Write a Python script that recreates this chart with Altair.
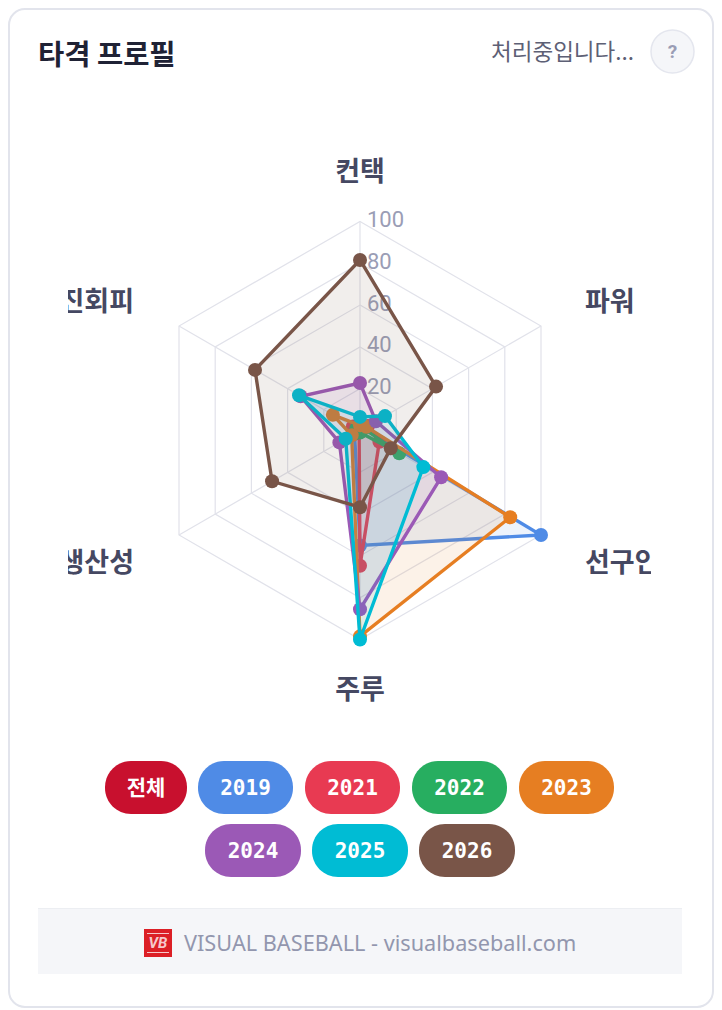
import math
import altair as alt
import pandas as pd

axes = ["컨택", "파워", "선구안", "주루", "생산성", "삼진회피"]
years = ["2019", "2021", "2022", "2023", "2024", "2025", "2026"]
colors = ["#4f8be6", "#e83a52", "#27ae60", "#e67e22", "#9b59b6", "#00bcd4", "#795548"]
v2019 = [3, 2, 100, 55, 3, 3]
v2021 = [3, 4.4, 10.7, 64.7, 0.5, 3.9]
v2022 = [0, 2, 21.7, 1, 3, 2]
v2023 = [2.5, 3.5, 83, 98.5, 4.6, 15]
v2024 = [22.7, 8.8, 44.8, 85.5, 11.4, 32.8]
v2025 = [6.5, 13.8, 35, 100, 7.9, 33.7]
v2026 = [81.6, 42, 17, 36.7, 48.6, 58]
series = [v2019, v2021, v2022, v2023, v2024, v2025, v2026]
levels = [100, 80, 60, 40, 20]
pill_labels = ["전체", "2019", "2021", "2022", "2023", "2024", "2025", "2026"]

W, H = 706, 1002
CX, CY, PX = 352.0, 422.5, 2.09


def polar(i, v):
    t = math.radians(60 * i)
    return v * math.sin(t), v * math.cos(t)


xs = alt.Scale(domain=[-CX / PX, (W - CX) / PX], range=[0, W], nice=False, zero=False)
ys = alt.Scale(domain=[-(H - CY) / PX, CY / PX], range=[H, 0], nice=False, zero=False)
X = alt.X("x:Q", scale=xs, axis=None)
Y = alt.Y("y:Q", scale=ys, axis=None)


def px(v):
    return alt.value(v - 8)


def box(x0, x1, y0, y1, **kw):
    return alt.Chart().mark_rect(**kw).encode(x=px(x0), x2=px(x1), y=px(y0), y2=px(y1))


def label(txt, x, y, **kw):
    return alt.Chart().mark_text(text=txt, **kw).encode(x=px(x), y=px(y))


KR = "Noto Sans CJK KR"
layers = []
layers.append(box(9, 713, 9, 1007, fill="white", stroke="#e2e4ec", strokeWidth=2, cornerRadius=16))

layers.append(label("타격 프로필", 38, 55.5, font=KR, fontSize=28.5, fontWeight=700, align="left", baseline="middle", color="#1f2235"))
layers.append(label("처리중입니다...", 634, 53, font=KR, fontSize=22.5, fontWeight=400, align="right", baseline="middle", color="#5d6075"))
layers.append(box(651, 694, 30, 73, fill="#f5f6f9", stroke="#e4e6ee", strokeWidth=1.5, cornerRadius=21.5))
layers.append(label("?", 672.5, 52, font="Roboto", fontSize=19, fontWeight=700, align="center", baseline="middle", color="#9a9db5"))

# grid
grid = pd.DataFrame(
    [{"level": l, "i": i, "x": polar(i, l)[0], "y": polar(i, l)[1]} for l in levels for i in range(6)]
)
layers.append(
    alt.Chart(grid).mark_line(interpolate="linear-closed", stroke="#e1e2ea", strokeWidth=1.2).encode(
        x=X, y=Y, detail="level:N", order="i:Q"
    )
)
spokes = pd.DataFrame(
    [{"x": 0, "y": 0, "x2": polar(i, 100)[0], "y2": polar(i, 100)[1]} for i in range(6)]
)
layers.append(
    alt.Chart(spokes).mark_rule(stroke="#e1e2ea", strokeWidth=1.2).encode(
        x=X, y=Y, x2="x2:Q", y2="y2:Q"
    )
)

# tick labels
ticks = pd.DataFrame({"x": [0] * len(levels), "y": levels, "t": [str(l) for l in levels]})
layers.append(
    alt.Chart(ticks).mark_text(font="Roboto", fontSize=22, align="left", baseline="middle", dx=7, dy=-1.5, color="#9a9db5").encode(
        x=X, y=Y, text="t:N"
    )
)

# series
for yr, col, vals in zip(years, colors, series):
    d = pd.DataFrame(
        [{"i": i, "x": polar(i, v)[0], "y": polar(i, v)[1]} for i, v in enumerate(vals)]
    )
    base = alt.Chart(d)
    layers.append(
        base.mark_line(interpolate="linear-closed", stroke=col, strokeWidth=3.4, fill=col, fillOpacity=0.1).encode(
            x=X, y=Y, order="i:Q"
        )
    )
    layers.append(base.mark_circle(size=196, color=col, opacity=1).encode(x=X, y=Y))

# axis names
name_style = dict(font=KR, fontSize=27, fontWeight=700, baseline="middle", color="#454862")
layers.append(label(axes[0], 360, 173, align="center", **name_style))
layers.append(label(axes[1], 585, 303, align="left", **name_style))
layers.append(label(axes[2], 585, 564, align="left", **name_style))
layers.append(label(axes[3], 360, 691, align="center", **name_style))
layers.append(label(axes[4], 134, 564, align="right", **name_style))
layers.append(label(axes[5], 134, 303, align="right", **name_style))
# labels are cut by the original's plot box
layers.append(box(20, 68, 280, 325, fill="white"))
layers.append(box(20, 68, 540, 585, fill="white"))
layers.append(box(651, 700, 540, 585, fill="white"))

# pills
pills = [
    (105, 187, 761, 814, "#c8102e"),
    (198, 293, 761, 814, colors[0]),
    (305, 400, 761, 814, colors[1]),
    (412, 507, 761, 814, colors[2]),
    (519, 614, 761, 814, colors[3]),
    (205, 301, 824, 877, colors[4]),
    (312, 408, 824, 877, colors[5]),
    (419, 515, 824, 877, colors[6]),
]
for lab, (x0, x1, y0, y1, c) in zip(pill_labels, pills):
    layers.append(box(x0, x1, y0, y1, fill=c, cornerRadius=26))
    f = KR if lab == "전체" else "DejaVu Sans Mono"
    layers.append(
        label(lab, (x0 + x1) / 2, (y0 + y1) / 2 + 1, font=f, fontSize=21, fontWeight=700, align="center", baseline="middle", color="white")
    )

# footer
layers.append(box(38, 682, 908, 974, fill="#f5f6f9"))
layers.append(box(38, 682, 908, 909, fill="#eceef2"))
layers.append(box(144, 172, 929, 957, fill="#dc1f26"))
layers.append(box(147, 169, 933, 934, fill="#f6c9cb"))
layers.append(box(147, 169, 952, 953, fill="#f6c9cb"))
layers.append(label("VB", 158, 943, font="Roboto", fontSize=15, fontWeight=700, fontStyle="italic", align="center", baseline="middle", color="#f6c9cb"))
layers.append(label("VISUAL BASEBALL - visualbaseball.com", 184, 944, font="Noto Sans", fontSize=21.7, align="left", baseline="middle", color="#9296ae"))

chart = alt.layer(*layers).properties(
    width=W, height=H, padding=0, autosize=alt.AutoSizeParams(type="none")
).configure_view(stroke=None)

chart.save("out.html", embed_options={"renderer": "svg", "actions": False})
